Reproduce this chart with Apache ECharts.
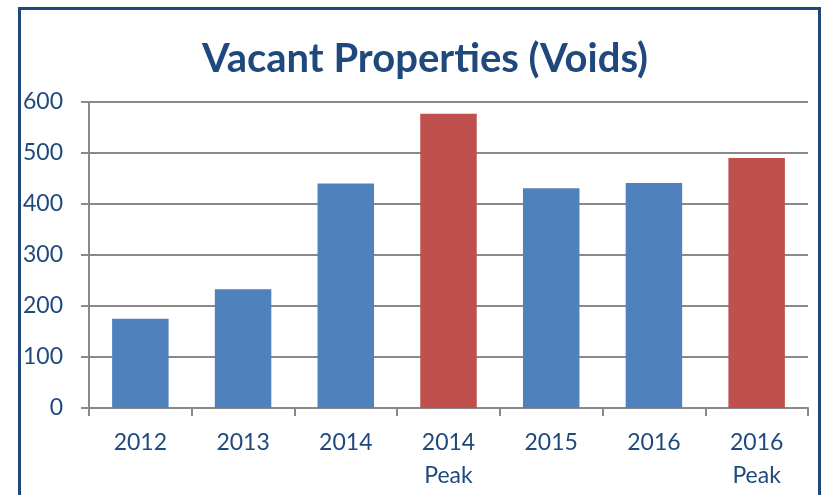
<!DOCTYPE html>
<html>
<head>
<meta charset="utf-8">
<script src="https://cdn.jsdelivr.net/npm/echarts@6/dist/echarts.min.js"></script>
<style>
html,body{margin:0;padding:0;background:#fff;}
#chart{width:825px;height:495px;}
</style>
</head>
<body>
<div id="chart"></div>
<script>
const categories = ['2012', '2013', '2014', '2014\nPeak', '2015', '2016', '2016\nPeak'];
const voids = [175, 233, 440, 577, 431, 441, 490];
const yTicks = [0, 100, 200, 300, 400, 500, 600];

const chart = echarts.init(document.getElementById('chart'), null, {renderer: 'canvas'});
const navy = '#1F497D';
const gray = '#898989';
chart.setOption({
  animation: false,
  backgroundColor: '#fff',
  title: {
    text: 'Vacant Properties (Voids)',
    left: 420, top: 54, textAlign: 'center', textVerticalAlign: 'middle',
    textStyle: {fontFamily: 'Lato', fontWeight: 'bold', fontSize: 40, color: navy}
  },
  graphic: [{
    type: 'rect', silent: true, z: -1,
    shape: {x: 19.5, y: 8.5, width: 800, height: 510},
    style: {fill: 'none', stroke: navy, lineWidth: 3}
  }],
  grid: {left: 89, right: 17, top: 102, bottom: 87, containLabel: false},
  xAxis: {
    type: 'category',
    data: categories,
    axisLine: {lineStyle: {color: gray, width: 2}},
    axisTick: {show: true, length: 8, lineStyle: {color: gray, width: 2}},
    axisLabel: {color: navy, fontFamily: 'Lato', fontSize: 23, lineHeight: 33, margin: 18, interval: 0}
  },
  yAxis: {
    type: 'value',
    min: yTicks[0], max: yTicks[yTicks.length - 1], interval: 100,
    axisLine: {show: true, lineStyle: {color: gray, width: 2}},
    axisTick: {show: true, length: 8, lineStyle: {color: gray, width: 2}},
    splitLine: {lineStyle: {color: gray, width: 2}},
    axisLabel: {color: navy, fontFamily: 'Lato', fontSize: 23, margin: 26}
  },
  series: [{
    type: 'bar',
    data: voids,
    barWidth: '55%',
    itemStyle: {
      color: function (p) { return /Peak/.test(categories[p.dataIndex]) ? '#C0504D' : '#4F81BD'; }
    }
  }]
});
</script>
</body>
</html>
